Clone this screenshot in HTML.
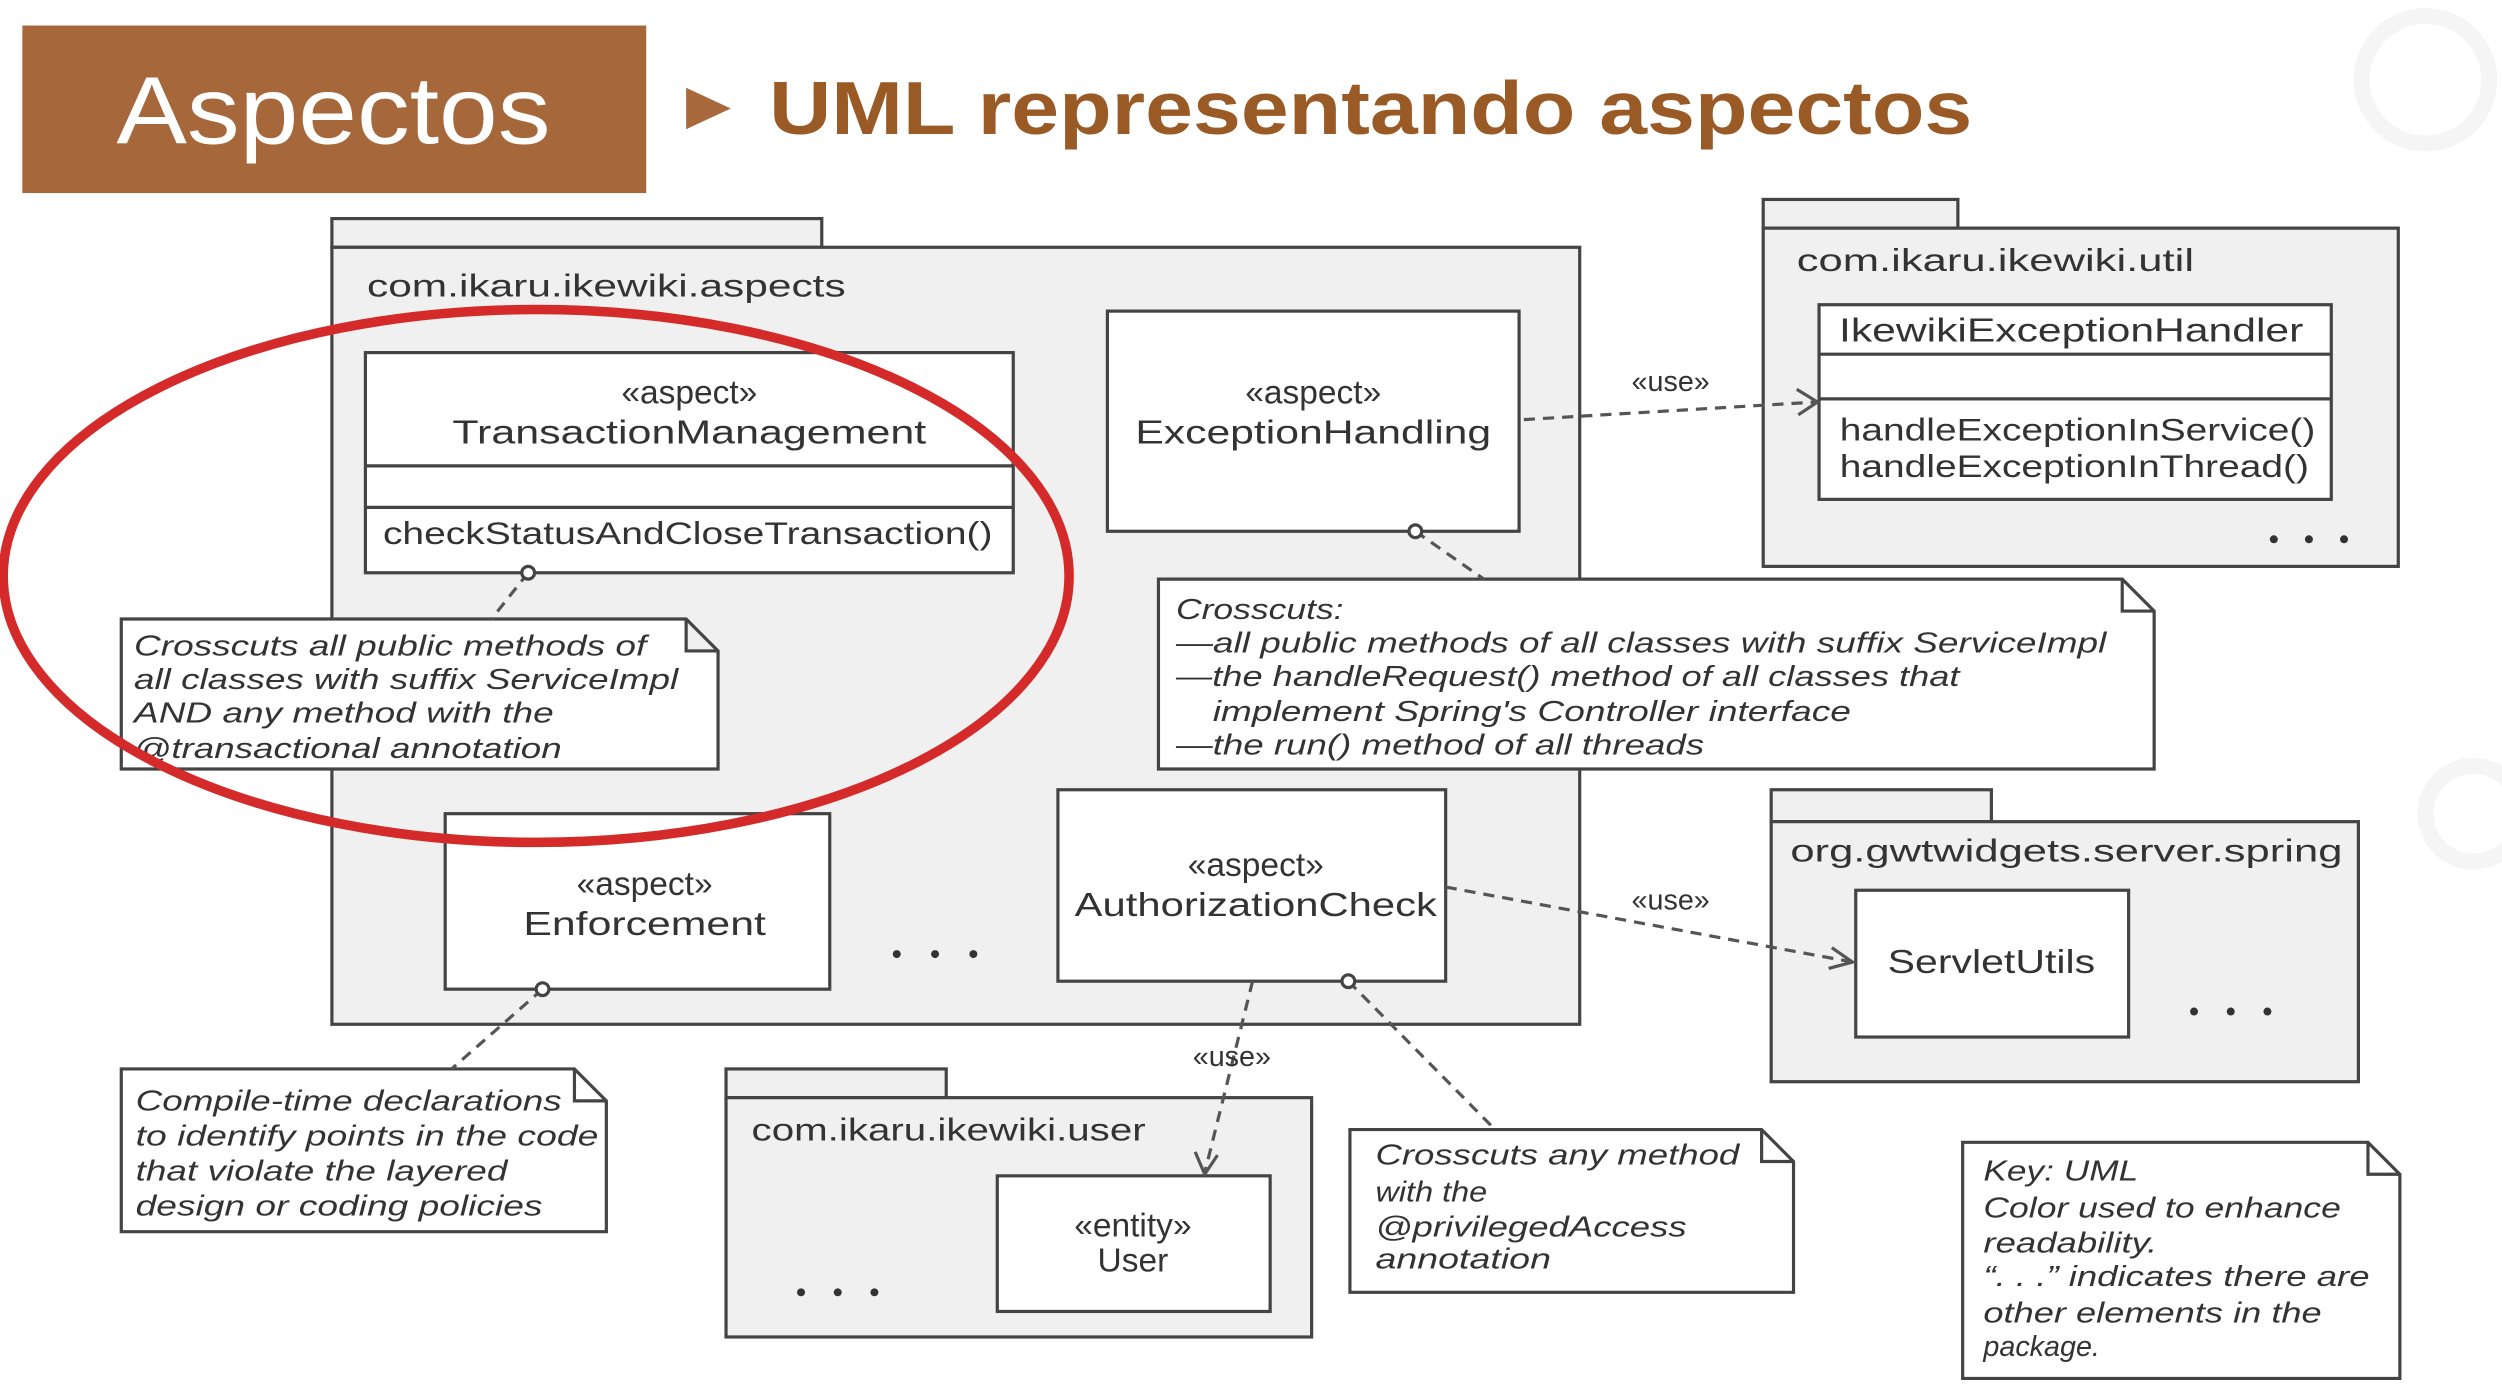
<!DOCTYPE html>
<html><head><meta charset="utf-8"><style>
html,body{margin:0;padding:0;background:#fff;}
svg{display:block;}
text{font-family:"Liberation Sans",sans-serif;fill:#333;}
.it{font-style:italic;font-size:18px;}
.c{font-size:21px;text-anchor:middle;}
.l{font-size:20px;}
</style></head><body>
<svg width="2502" height="1400" viewBox="0 0 1568 877.5" preserveAspectRatio="none" xmlns="http://www.w3.org/2000/svg">
<rect width="1568" height="878" fill="#fff"/>
<g fill="none" stroke="#f5f5f5" stroke-width="10">
<circle cx="1520" cy="50" r="40"/><circle cx="1550" cy="510" r="30"/>
</g>
<rect x="14" y="16" width="391" height="105" fill="#a6683a"/>
<text x="73" y="90" font-size="60" textLength="272" lengthAdjust="spacingAndGlyphs" style="fill:#fff">Aspectos</text>
<polygon points="430,55 458,68 430,81" fill="#a86a3c"/>
<text x="482" y="84" font-size="47" font-weight="bold" textLength="754" lengthAdjust="spacingAndGlyphs" style="fill:#9a5a25">UML representando aspectos</text>

<g stroke="#444" stroke-width="2">
<rect x="208" y="137" width="307" height="18" fill="#f0f0f0"/>
<rect x="208" y="155" width="782" height="487" fill="#f0f0f0"/>
<rect x="1105" y="125" width="122" height="18" fill="#f0f0f0"/>
<rect x="1105" y="143" width="398" height="212" fill="#f0f0f0"/>
<rect x="1110" y="495" width="138" height="20" fill="#f0f0f0"/>
<rect x="1110" y="515" width="368" height="163" fill="#f0f0f0"/>
<rect x="455" y="670" width="138" height="18" fill="#f0f0f0"/>
<rect x="455" y="688" width="367" height="150" fill="#f0f0f0"/>
<rect x="229" y="221" width="406" height="138" fill="#fff"/>
<line x1="229" y1="292" x2="635" y2="292"/><line x1="229" y1="318" x2="635" y2="318"/>
<rect x="694" y="195" width="258" height="138" fill="#fff"/>
<rect x="1140" y="191" width="321" height="122" fill="#fff"/>
<line x1="1140" y1="222" x2="1461" y2="222"/><line x1="1140" y1="250" x2="1461" y2="250"/>
<rect x="279" y="510" width="241" height="110" fill="#fff"/>
<rect x="663" y="495" width="243" height="120" fill="#fff"/>
<rect x="1163" y="558" width="171" height="92" fill="#fff"/>
<rect x="625" y="737" width="171" height="85" fill="#fff"/>
<path d="M76 388 H430 L450 408 V482 H76 Z M430 388 V408 H450" fill="#fff"/>
<path d="M726 363 H1330 L1350 383 V482 H726 Z M1330 363 V383 H1350" fill="#fff"/>
<path d="M76 670 H360 L380 690 V772 H76 Z M360 670 V690 H380" fill="#fff"/>
<path d="M846 708 H1104 L1124 728 V810 H846 Z M1104 708 V728 H1124" fill="#fff"/>
<path d="M1230 716 H1484 L1504 736 V864 H1230 Z M1484 716 V736 H1504" fill="#fff"/>
</g>
<g stroke="#555" stroke-width="2" stroke-dasharray="7,5" fill="none">
<line x1="331" y1="359" x2="308" y2="388"/>
<line x1="887" y1="333" x2="930" y2="363"/>
<line x1="340" y1="620" x2="283" y2="670"/>
<line x1="845" y1="615" x2="935" y2="706"/>
<line x1="955" y1="263" x2="1138" y2="252"/>
<line x1="906" y1="556" x2="1161" y2="603"/>
<line x1="785" y1="615" x2="755" y2="735"/>
</g>
<g stroke="#555" stroke-width="2" fill="none">
<polyline points="1126,244 1139,252 1127,260"/>
<polyline points="1148,594 1161,603 1146,607"/>
<polyline points="749,722 755,736 763,724"/>
</g>
<g fill="#fff" stroke="#444" stroke-width="2">
<circle cx="331" cy="359" r="4"/><circle cx="887" cy="333" r="4"/><circle cx="340" cy="620" r="4"/><circle cx="845" cy="615" r="4"/>
</g>
<g fill="#333">
<circle cx="1425" cy="338" r="2.5"/><circle cx="1447" cy="338" r="2.5"/><circle cx="1469" cy="338" r="2.5"/>
<circle cx="562" cy="598" r="2.5"/><circle cx="586" cy="598" r="2.5"/><circle cx="610" cy="598" r="2.5"/>
<circle cx="1375" cy="634" r="2.5"/><circle cx="1398" cy="634" r="2.5"/><circle cx="1421" cy="634" r="2.5"/>
<circle cx="502" cy="810" r="2.5"/><circle cx="525" cy="810" r="2.5"/><circle cx="548" cy="810" r="2.5"/>
</g>

<text class="l" x="230" y="186" textLength="300" lengthAdjust="spacingAndGlyphs">com.ikaru.ikewiki.aspects</text>
<text class="c" x="432" y="253">«aspect»</text>
<text class="c" x="432" y="278" textLength="297" lengthAdjust="spacingAndGlyphs">TransactionManagement</text>
<text class="l" x="240" y="341" textLength="382" lengthAdjust="spacingAndGlyphs">checkStatusAndCloseTransaction()</text>
<text class="c" x="823" y="253">«aspect»</text>
<text class="c" x="823" y="278" textLength="223" lengthAdjust="spacingAndGlyphs">ExceptionHandling</text>
<text class="l" x="1126" y="170" textLength="249" lengthAdjust="spacingAndGlyphs">com.ikaru.ikewiki.util</text>
<text class="c" x="1298" y="214" textLength="291" lengthAdjust="spacingAndGlyphs">IkewikiExceptionHandler</text>
<text class="l" x="1153" y="276" textLength="298" lengthAdjust="spacingAndGlyphs">handleExceptionInService()</text>
<text class="l" x="1153" y="299" textLength="294" lengthAdjust="spacingAndGlyphs">handleExceptionInThread()</text>
<text class="c" x="404" y="561">«aspect»</text>
<text class="c" x="404" y="586" textLength="152" lengthAdjust="spacingAndGlyphs">Enforcement</text>
<text class="c" x="787" y="549">«aspect»</text>
<text class="c" x="787" y="574" textLength="227" lengthAdjust="spacingAndGlyphs">AuthorizationCheck</text>
<text class="l" x="1122" y="540" textLength="346" lengthAdjust="spacingAndGlyphs">org.gwtwidgets.server.spring</text>
<text class="c" x="1248" y="610" textLength="130" lengthAdjust="spacingAndGlyphs">ServletUtils</text>
<text class="l" x="471" y="715" textLength="247" lengthAdjust="spacingAndGlyphs">com.ikaru.ikewiki.user</text>
<text class="c" x="710" y="775">«entity»</text>
<text class="c" x="710" y="797">User</text>
<text class="c" x="1047" y="245" style="font-size:18px">«use»</text>
<text class="c" x="1047" y="570" style="font-size:18px">«use»</text>
<text class="c" x="772" y="668" style="font-size:18px">«use»</text>

<text class="it" x="84" y="411" textLength="321" lengthAdjust="spacingAndGlyphs">Crosscuts all public methods of</text>
<text class="it" x="84" y="432" textLength="341" lengthAdjust="spacingAndGlyphs">all classes with suffix ServiceImpl</text>
<text class="it" x="84" y="453" textLength="263" lengthAdjust="spacingAndGlyphs">AND any method with the</text>
<text class="it" x="84" y="475" textLength="268" lengthAdjust="spacingAndGlyphs">@transactional annotation</text>
<text class="it" x="737" y="388" textLength="105" lengthAdjust="spacingAndGlyphs">Crosscuts:</text>
<text class="it" x="737" y="409" textLength="583" lengthAdjust="spacingAndGlyphs">—all public methods of all classes with suffix ServiceImpl</text>
<text class="it" x="737" y="430" textLength="491" lengthAdjust="spacingAndGlyphs">—the handleRequest() method of all classes that</text>
<text class="it" x="760" y="452" textLength="400" lengthAdjust="spacingAndGlyphs">implement Spring's Controller interface</text>
<text class="it" x="737" y="473" textLength="331" lengthAdjust="spacingAndGlyphs">—the run() method of all threads</text>
<text class="it" x="85" y="696" textLength="267" lengthAdjust="spacingAndGlyphs">Compile-time declarations</text>
<text class="it" x="85" y="718" textLength="290" lengthAdjust="spacingAndGlyphs">to identify points in the code</text>
<text class="it" x="85" y="740" textLength="233" lengthAdjust="spacingAndGlyphs">that violate the layered</text>
<text class="it" x="85" y="762" textLength="255" lengthAdjust="spacingAndGlyphs">design or coding policies</text>
<text class="it" x="862" y="730" textLength="228" lengthAdjust="spacingAndGlyphs">Crosscuts any method</text>
<text class="it" x="862" y="753" textLength="70" lengthAdjust="spacingAndGlyphs">with the</text>
<text class="it" x="862" y="775" textLength="195" lengthAdjust="spacingAndGlyphs">@privilegedAccess</text>
<text class="it" x="862" y="795" textLength="110" lengthAdjust="spacingAndGlyphs">annotation</text>
<text class="it" x="1243" y="740" textLength="97" lengthAdjust="spacingAndGlyphs">Key: UML</text>
<text class="it" x="1243" y="763" textLength="224" lengthAdjust="spacingAndGlyphs">Color used to enhance</text>
<text class="it" x="1243" y="785" textLength="109" lengthAdjust="spacingAndGlyphs">readability.</text>
<text class="it" x="1243" y="806" textLength="242" lengthAdjust="spacingAndGlyphs">“. . .” indicates there are</text>
<text class="it" x="1243" y="829" textLength="212" lengthAdjust="spacingAndGlyphs">other elements in the</text>
<text class="it" x="1243" y="850" textLength="73" lengthAdjust="spacingAndGlyphs">package.</text>

<ellipse cx="336" cy="361" rx="334" ry="167" fill="none" stroke="#d42a2a" stroke-width="6"/>
</svg>
</body></html>
